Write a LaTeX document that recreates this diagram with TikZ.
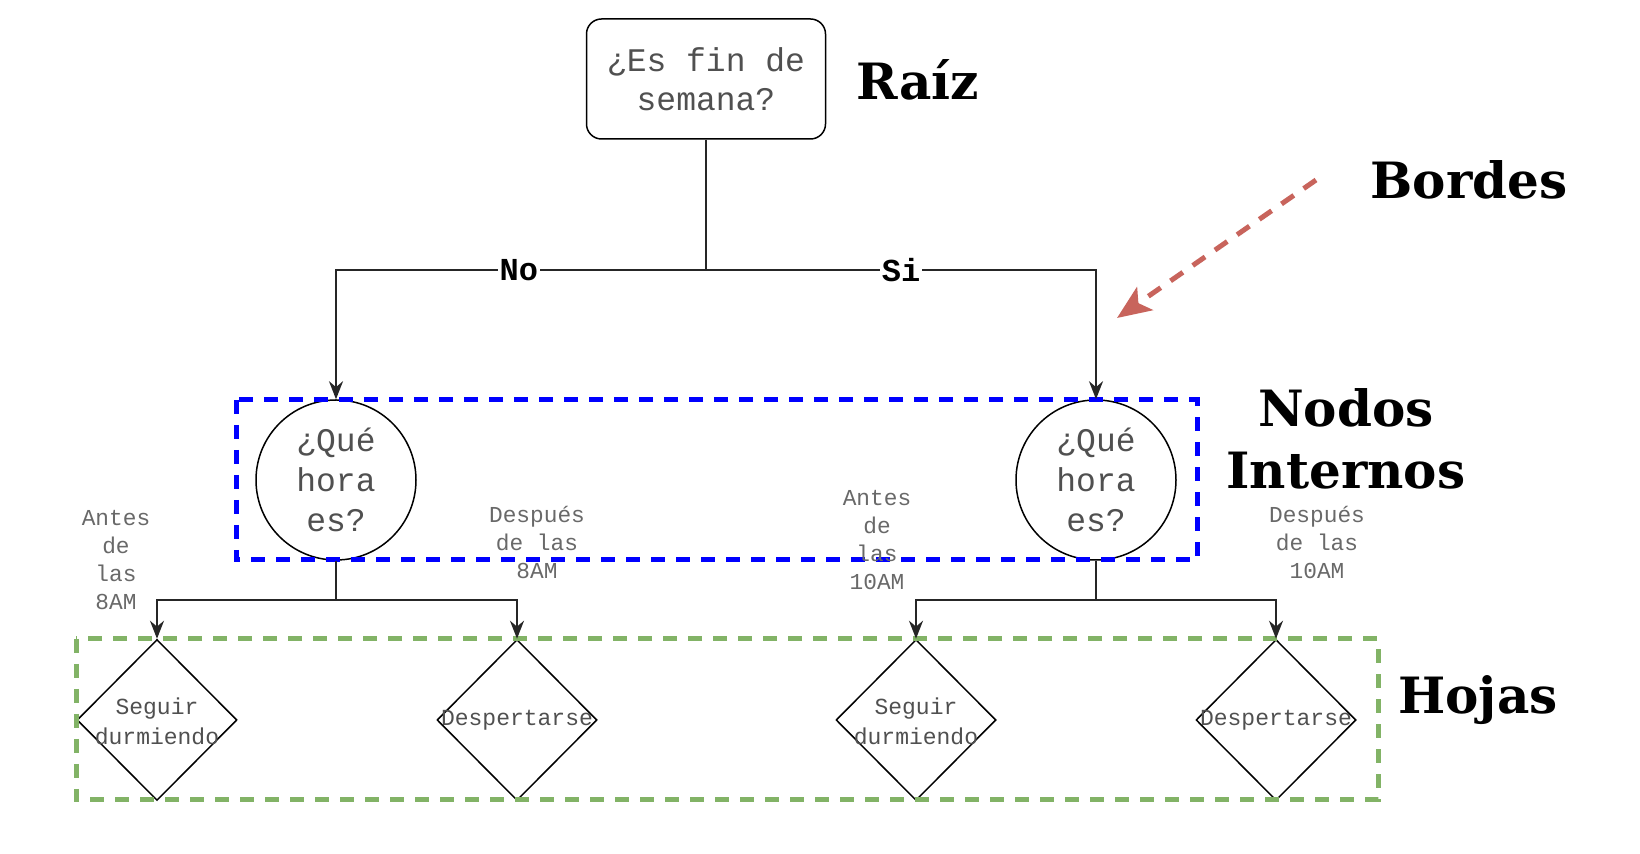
\documentclass[tikz,border=0pt]{standalone}
\usepackage{fontspec}
\usetikzlibrary{arrows.meta,shapes.geometric}
\newfontfamily\monof{Liberation Mono}
\newfontfamily\titlef{DejaVu Serif}
\definecolor{txtgray}{RGB}{80,80,80}
\definecolor{lblgray}{RGB}{105,105,105}
\definecolor{boxblue}{RGB}{0,0,255}
\definecolor{boxgreen}{RGB}{130,179,102}
\definecolor{arrred}{RGB}{200,100,92}
\tikzset{
  rootbox/.style={draw, line width=0.75pt, rounded corners=7.5pt, minimum width=119.5pt, minimum height=60pt, inner sep=0pt, align=center, text=txtgray, font=\monof\fontsize{16.5}{19.5}\selectfont},
  qnode/.style={draw, line width=0.75pt, circle, minimum size=80pt, inner sep=0pt, align=center, text=txtgray, font=\monof\fontsize{16.5}{20}\selectfont},
  leafshape/.style={draw, line width=0.75pt, diamond, minimum width=80pt, minimum height=80.5pt, inner sep=0pt},
  leaftext/.style={align=center, text=txtgray, inner sep=0pt, font=\monof\fontsize{11.5}{15}\selectfont},
  edgelbl/.style={align=center, text=lblgray, inner sep=0pt, font=\monof\fontsize{11.4}{14}\selectfont},
  yesno/.style={fill=white, inner sep=1pt, font=\monof\bfseries\fontsize{16}{18}\selectfont},
  conn/.style={line width=1pt, draw=black!85},
  arr/.style={conn, -{Stealth[length=9pt, width=7pt]}},
  title/.style={font=\titlef\bfseries\fontsize{25}{31}\selectfont, align=center, inner sep=0pt},
  bluebox/.style={draw=boxblue, line width=2.5pt, dash pattern=on 7pt off 5.5pt},
  greenbox/.style={draw=boxgreen, line width=2.5pt, dash pattern=on 7pt off 5.5pt},
}
\begin{document}
\begin{tikzpicture}[x=0.5pt,y=-0.5pt]
\useasboundingbox (0,0) rectangle (1640,854);
\fill[white] (0,0) rectangle (1640,854);

% nodes
\node[rootbox] (root) at (706,79) {¿Es fin de\\semana?};
\node[qnode] (q1) at (336,480) {¿Qué\\hora\\es?};
\node[qnode] (q2) at (1096,480) {¿Qué\\hora\\es?};
\node[leafshape] (l1) at (157,720) {};
\node[leafshape] (l2) at (517,720) {};
\node[leafshape] (l3) at (916,720) {};
\node[leafshape] (l4) at (1276,720) {};
\node[leaftext] (t1) at (157,721) {Seguir\\durmiendo};
\node[leaftext] (t2) at (517,720) {Despertarse};
\node[leaftext] (t3) at (916,721) {Seguir\\durmiendo};
\node[leaftext] (t4) at (1276,720) {Despertarse};

% group boxes
\draw[bluebox] (236,400) rectangle (1197,560);
\draw[greenbox] (76,639) rectangle (1378,800);

% connectors
\coordinate (j0) at (706,270);
\coordinate (j1) at (336,600);
\coordinate (j2) at (1096,600);
\draw[conn] (root.south) -- (j0);
\draw[arr] (j0) -| node[yesno, pos=0.253] {No} (q1.north);
\draw[arr] (j0) -| node[yesno, pos=0.25] {Si} (q2.north);
\draw[conn] (q1.south) -- (j1);
\draw[conn] (q2.south) -- (j2);
\draw[arr] (j1) -| (l1.north);
\draw[arr] (j1) -| (l2.north);
\draw[arr] (j2) -| (l3.north);
\draw[arr] (j2) -| (l4.north);

% edge labels
\node[edgelbl] (e1) at (116,560) {Antes\\de\\las\\8AM};
\node[edgelbl] (e2) at (537,542) {Después\\de las\\8AM};
\node[edgelbl] (e3) at (877,540) {Antes\\de\\las\\10AM};
\node[edgelbl] (e4) at (1317,542) {Después\\de las\\10AM};

% titles
\node[title] (traiz) at (918,80) {Raíz};
\node[title] (tbordes) at (1469,180) {Bordes};
\node[title] (tnodos) at (1346,439) {Nodos\\Internos};
\node[title] (thojas) at (1478,700) {Hojas};

% red dashed arrow
\coordinate (rs) at (1316,180);
\coordinate (re) at (1117,318);
\draw[draw=arrred, line width=2.5pt, dash pattern=on 7.5pt off 6pt, -{Stealth[length=17pt, width=14pt, inset=4pt, fill=arrred]}] (rs) -- (re);
\end{tikzpicture}
\end{document}
